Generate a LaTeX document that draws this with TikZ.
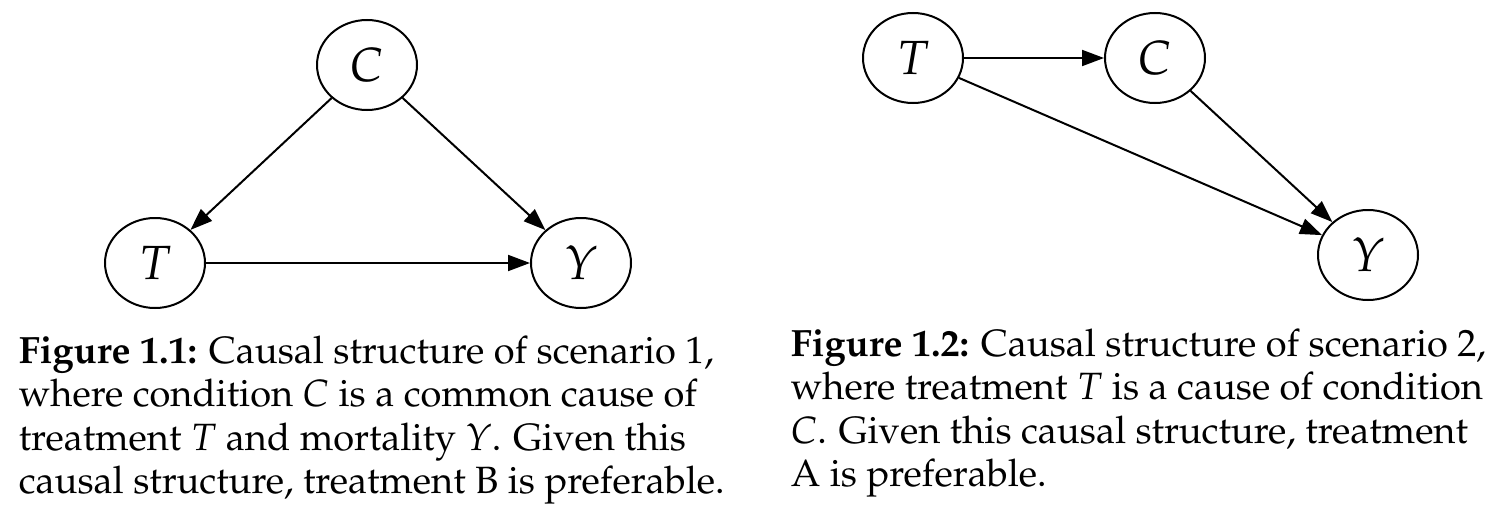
\documentclass[tikz,border=0pt]{standalone}
\usepackage[T1]{fontenc}
\usepackage{mathpazo}
\usetikzlibrary{shapes.geometric, arrows.meta, positioning}

\begin{document}
\begin{tikzpicture}[x=0.25pt, y=-0.25pt,
    var/.style={draw, ellipse, line width=0.5pt, minimum width=25pt, minimum height=22.5pt, inner sep=0pt, font=\fontsize{12}{12}\selectfont},
    edge/.style={-{Triangle[length=5.5pt, width=4pt]}, line width=0.5pt},
    caption/.style={anchor=north west, align=left, inner sep=0pt, font=\fontsize{9.5}{10.875}\selectfont}]
    \useasboundingbox (0,0) rectangle (1511,514);
    % scenario 1: C is a common cause of T and Y
    \node[var] (c1) at (367,65) {$C$};
    \node[var] (t1) at (155,263) {$T$};
    \node[var] (y1) at (581,263) {$Y$};
    \draw[edge] (c1) -- (t1);
    \draw[edge] (c1) -- (y1);
    \draw[edge] (t1) -- (y1);
    \node[caption] (cap1) at (18,335) {\textbf{Figure 1.1:} Causal structure of scenario 1,\\
        where condition $C$ is a common cause of\\
        treatment $T$ and mortality $Y$. Given this\\
        causal structure, treatment B is preferable.};
    % scenario 2: T is a cause of C
    \node[var] (t2) at (913,58) {$T$};
    \node[var] (c2) at (1155,58) {$C$};
    \node[var] (y2) at (1368,255) {$Y$};
    \draw[edge] (t2) -- (c2);
    \draw[edge] (t2) -- (y2);
    \draw[edge] (c2) -- (y2);
    \node[caption] (cap2) at (790,328) {\textbf{Figure 1.2:} Causal structure of scenario 2,\\
        where treatment $T$ is a cause of condition\\
        $C$. Given this causal structure, treatment\\
        A is preferable.};
\end{tikzpicture}
\end{document}
